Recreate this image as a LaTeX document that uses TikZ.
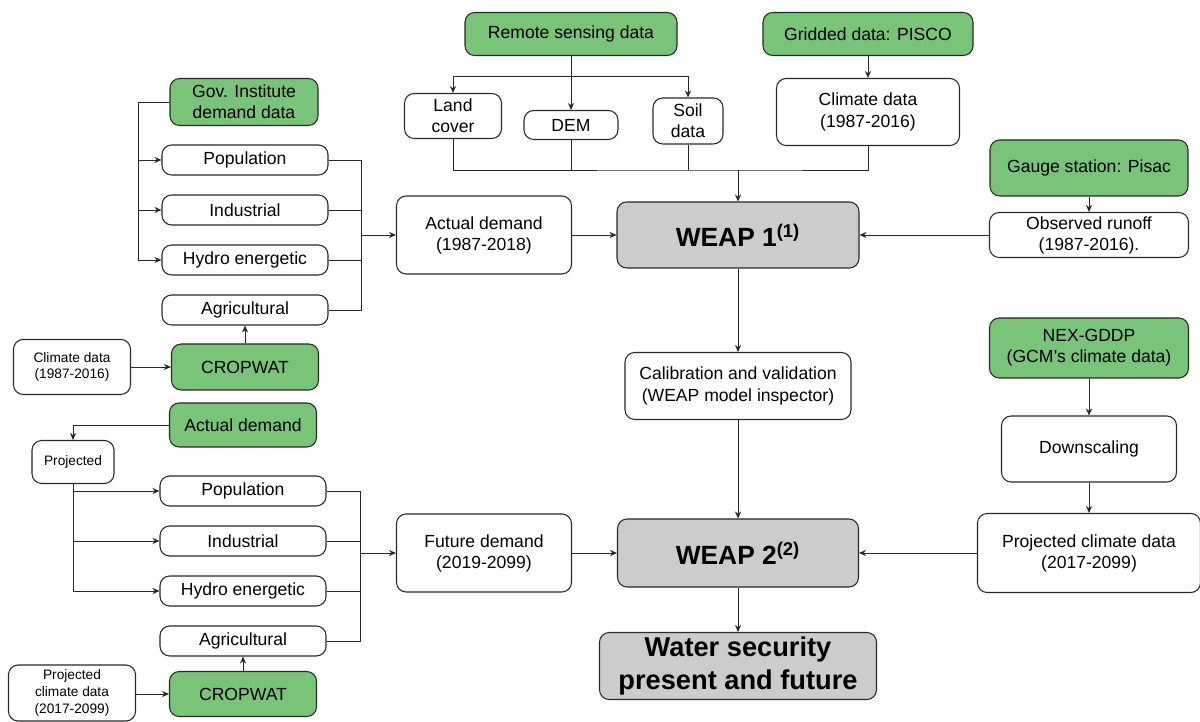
\documentclass[tikz,border=0pt]{standalone}
\usepackage{fontspec}
\setmainfont{Liberation Sans}
\usetikzlibrary{arrows.meta}
\definecolor{cgreen}{RGB}{122,196,122}
\definecolor{cgray}{RGB}{204,204,204}
\definecolor{cline}{RGB}{40,40,40}
\tikzset{
  base/.style={draw=cline, line width=0.6pt, rounded corners=5.5pt, align=center, inner sep=0pt, text=black, font=\fontsize{10}{12}\selectfont},
  sz/.style 2 args={minimum width=#1*0.02cm, minimum height=#2*0.02cm},
  wbox/.style={base, fill=white},
  gbox/.style={base, fill=cgreen},
  graybox/.style={base, fill=cgray, font=\fontsize{15}{18.5}\selectfont\bfseries},
  smalltxt/.style={font=\fontsize{7.8}{9.6}\selectfont},
  arr/.style={draw=cline, line width=0.55pt, -{Stealth[length=4pt,width=3.5pt]}},
  ln/.style={draw=cline, line width=0.55pt}
}
\begin{document}
\begin{tikzpicture}[x=0.02cm, y=-0.02cm]
\useasboundingbox (0,0) rectangle (1200,722);
% top
\node[gbox, sz={212}{43}] (rs) at (571,34) {Remote sensing data};
\node[gbox, sz={210}{43}] (pisco) at (868,34) {Gridded data: PISCO};
\node[wbox, sz={97}{45}] (land) at (453,116) {Land\\cover};
\node[wbox, sz={94}{29}] (dem) at (571,125) {DEM};
\node[wbox, sz={70}{46}] (soil) at (688,121) {Soil\\data};
\node[wbox, sz={183}{67}] (clim1) at (868,112) {Climate data\\(1987-2016)};
\node[graybox, sz={242}{66}] (weap1) at (738,235) {WEAP 1\textsuperscript{(1)}};
\node[wbox, sz={175}{78}] (actd) at (484,235) {Actual demand\\(1987-2018)};
\node[gbox, sz={198}{56}] (gauge) at (1089,168) {Gauge station: Pisac};
\node[wbox, sz={199}{45}] (obs) at (1089,235) {Observed runoff\\(1987-2016).};
\node[gbox, sz={199}{60}] (nex) at (1089,348) {NEX-GDDP\\(GCM’s climate data)};
\node[wbox, sz={175}{66}] (down) at (1089,449) {Downscaling};
\node[wbox, sz={223}{79}] (proj) at (1089,553) {Projected climate data\\(2017-2099)};
\node[wbox, sz={226}{67}] (calib) at (738,386) {Calibration and validation\\(WEAP model inspector)};
\node[graybox, sz={241}{68}] (weap2) at (738,553) {WEAP 2\textsuperscript{(2)}};
\node[graybox, sz={277}{67}, font=\fontsize{15.5}{18.5}\selectfont\bfseries] (water) at (738,666) {Water security\\present and future};
\node[wbox, sz={175}{78}] (futd) at (484,553) {Future demand\\(2019-2099)};
% left top
\node[gbox, sz={148}{47}] (gov) at (244,102) {Gov. Institute\\demand data};
\node[wbox, sz={166}{30}] (pop1) at (245,160) {Population};
\node[wbox, sz={166}{30}] (ind1) at (245,210) {Industrial};
\node[wbox, sz={166}{30}] (hyd1) at (245,260) {Hydro energetic};
\node[wbox, sz={166}{30}] (agr1) at (245,310) {Agricultural};
\node[gbox, sz={147}{46}] (crop1) at (245,367) {CROPWAT};
\node[wbox, smalltxt, sz={117}{55}] (cl1) at (72,367) {Climate data\\(1987-2016)};
% left bottom
\node[gbox, sz={147}{44}] (actg) at (243,425) {Actual demand};
\node[wbox, smalltxt, sz={82}{43}] (projd) at (73,462) {Projected};
\node[wbox, sz={166}{30}] (pop2) at (243,491) {Population};
\node[wbox, sz={166}{30}] (ind2) at (243,541) {Industrial};
\node[wbox, sz={166}{30}] (hyd2) at (243,591) {Hydro energetic};
\node[wbox, sz={166}{30}] (agr2) at (243,641) {Agricultural};
\node[gbox, sz={147}{45}] (crop2) at (243,694) {CROPWAT};
\node[wbox, smalltxt, sz={127}{56}] (pcl) at (72,693) {Projected\\climate data\\(2017-2099)};
% coordinates
\coordinate (rsb) at (571,76);
\coordinate (bus) at (738,170);
\coordinate (gbus) at (138,0);
\coordinate (rb1) at (361,0);
\coordinate (rb2) at (360,0);
% top connectors
\draw[arr] (rs.south) -- (dem.north);
\draw[arr] (rsb) -| (land.north);
\draw[arr] (rsb) -| (soil.north);
\draw[arr] (pisco.south) -- (clim1.north);
\draw[ln] (land.south) |- (bus) -| (clim1.south);
\draw[ln] (dem.south) -- (dem.south |- bus);
\draw[ln] (soil.south) -- (soil.south |- bus);
\draw[arr] (bus) -- (weap1.north);
\draw[arr] (actd.east) -- (weap1.west);
\draw[arr] (gauge.south) -- (obs.north);
\draw[arr] (obs.west) -- (weap1.east);
\draw[arr] (weap1.south) -- (calib.north);
\draw[arr] (calib.south) -- (weap2.north);
\draw[arr] (weap2.south) -- (water.north);
\draw[arr] (nex.south) -- (down.north);
\draw[arr] (down.south) -- (proj.north);
\draw[arr] (proj.west) -- (weap2.east);
\draw[arr] (futd.east) -- (weap2.west);
% left top connectors
\draw[arr] (gov.west) -| (gbus |- hyd1) -- (hyd1.west);
\draw[arr] (gbus |- pop1) -- (pop1.west);
\draw[arr] (gbus |- ind1) -- (ind1.west);
\draw[ln] (pop1.east) -| (rb1 |- agr1) -- (agr1.east);
\draw[ln] (ind1.east) -- (rb1 |- ind1);
\draw[ln] (hyd1.east) -- (rb1 |- hyd1);
\draw[arr] (rb1 |- actd) -- (actd.west);
\draw[arr] (crop1.north) -- (agr1.south);
\draw[arr] (cl1.east) -- (crop1.west);
% left bottom connectors
\draw[arr] (actg.west) -| (projd.north);
\draw[arr] (projd.south) |- (hyd2.west);
\draw[arr] (projd.south |- pop2) -- (pop2.west);
\draw[arr] (projd.south |- ind2) -- (ind2.west);
\draw[ln] (pop2.east) -| (rb2 |- agr2) -- (agr2.east);
\draw[ln] (ind2.east) -- (rb2 |- ind2);
\draw[ln] (hyd2.east) -- (rb2 |- hyd2);
\draw[arr] (rb2 |- futd) -- (futd.west);
\draw[arr] (crop2.north) -- (agr2.south);
\draw[arr] (pcl.east |- crop2) -- (crop2.west);
\end{tikzpicture}
\end{document}
